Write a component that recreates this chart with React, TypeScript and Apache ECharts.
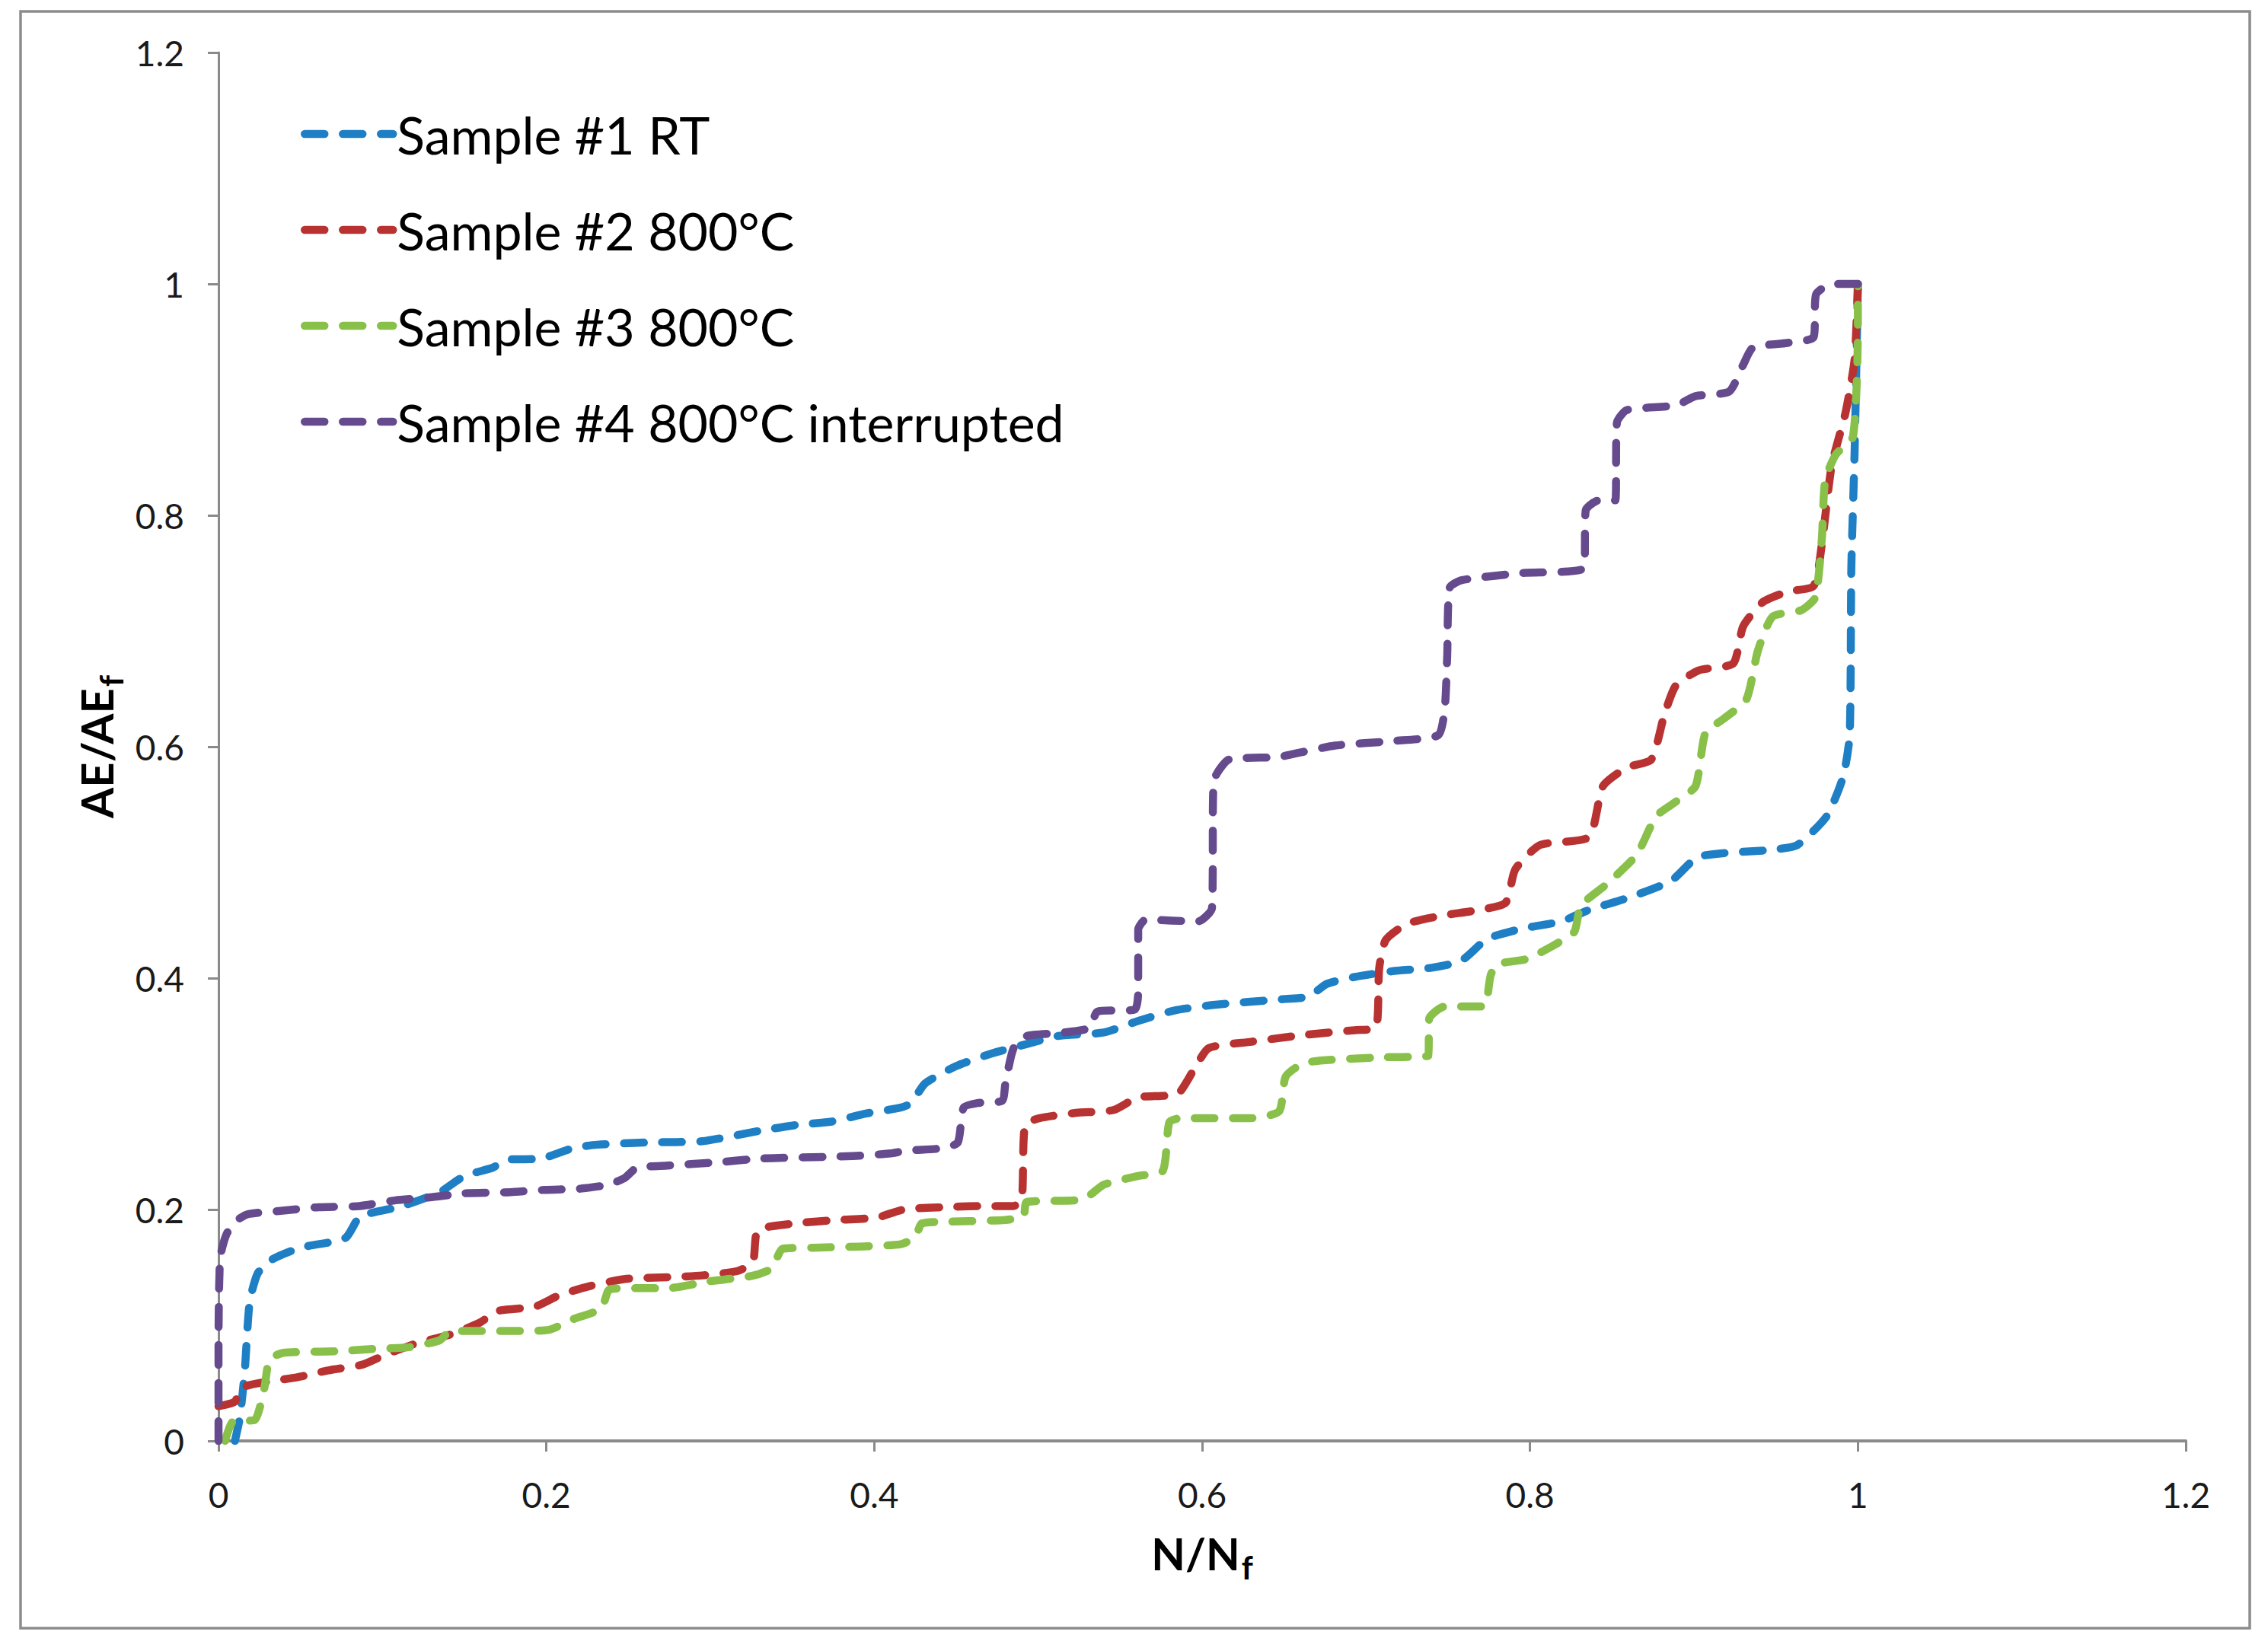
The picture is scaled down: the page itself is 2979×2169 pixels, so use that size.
import React, { useEffect, useRef } from "react";
import * as echarts from "echarts";

const seriesNames = [
  "Sample #1 RT",
  "Sample #2 800°C",
  "Sample #3 800°C",
  "Sample #4 800°C interrupted",
];
const seriesColors = ["#1e7fc5", "#b83232", "#88c04a", "#654a8e"];

const s1RT: number[][] = [
  [0.01, 0], [0.013, 0.02], [0.016, 0.06], [0.019, 0.12], [0.024, 0.145], [0.033, 0.157],
  [0.05, 0.167], [0.069, 0.172], [0.078, 0.176], [0.086, 0.194], [0.093, 0.197], [0.112, 0.203],
  [0.135, 0.215], [0.15, 0.229], [0.167, 0.236], [0.176, 0.243], [0.197, 0.244], [0.216, 0.253],
  [0.231, 0.256], [0.263, 0.258], [0.295, 0.259], [0.33, 0.268], [0.352, 0.273], [0.374, 0.276],
  [0.395, 0.283], [0.416, 0.288], [0.4225, 0.292], [0.431, 0.309], [0.45, 0.324], [0.472, 0.335],
  [0.493, 0.343], [0.512, 0.35], [0.54, 0.353], [0.561, 0.363], [0.583, 0.372], [0.608, 0.377],
  [0.651, 0.382], [0.665, 0.384], [0.676, 0.395], [0.693, 0.401], [0.716, 0.406], [0.74, 0.409],
  [0.758, 0.415], [0.774, 0.434], [0.796, 0.443], [0.819, 0.449], [0.836, 0.459], [0.859, 0.469],
  [0.886, 0.484], [0.903, 0.505], [0.948, 0.511], [0.963, 0.515], [0.981, 0.54], [0.991, 0.574],
  [0.995, 0.61], [0.996, 0.755], [0.998, 0.855], [1.0, 1.0],
];

const s2Hot: number[][] = [
  [0, 0.03], [0.01, 0.034], [0.014, 0.046], [0.029, 0.051], [0.048, 0.055], [0.067, 0.061],
  [0.088, 0.066], [0.101, 0.074], [0.12, 0.084], [0.1415, 0.092], [0.159, 0.102], [0.171, 0.1125],
  [0.193, 0.116], [0.208, 0.126], [0.227, 0.134], [0.248, 0.14], [0.274, 0.1415], [0.295, 0.143],
  [0.317, 0.147], [0.326, 0.155], [0.329, 0.182], [0.352, 0.188], [0.378, 0.191], [0.4015, 0.193],
  [0.418, 0.2], [0.442, 0.202], [0.465, 0.203], [0.485, 0.203], [0.49, 0.209], [0.492, 0.273],
  [0.501, 0.279], [0.523, 0.2835], [0.546, 0.286], [0.561, 0.297], [0.585, 0.3], [0.595, 0.321],
  [0.604, 0.3395], [0.63, 0.345], [0.663, 0.351], [0.693, 0.355], [0.706, 0.357], [0.708, 0.4085],
  [0.712, 0.433], [0.725, 0.447], [0.746, 0.454], [0.767, 0.4585], [0.785, 0.465], [0.791, 0.494],
  [0.806, 0.515], [0.836, 0.522], [0.8445, 0.566], [0.859, 0.582], [0.874, 0.589], [0.882, 0.628],
  [0.889, 0.653], [0.903, 0.666], [0.924, 0.672], [0.93, 0.704], [0.942, 0.725], [0.957, 0.734],
  [0.973, 0.739], [0.978, 0.775], [0.984, 0.843], [0.9925, 0.889], [0.998, 0.935], [1.0, 1.0],
];

const s3Hot: number[][] = [
  [0.004, 0], [0.009, 0.017], [0.022, 0.018], [0.028, 0.046], [0.031, 0.07], [0.039, 0.076],
  [0.0715, 0.0775], [0.095, 0.0795], [0.116, 0.081], [0.135, 0.087], [0.1415, 0.095], [0.18, 0.095],
  [0.2015, 0.096], [0.216, 0.105], [0.2335, 0.1145], [0.2385, 0.131], [0.2525, 0.132], [0.274, 0.132],
  [0.2995, 0.138], [0.325, 0.1425], [0.3375, 0.149], [0.344, 0.166], [0.363, 0.167], [0.391, 0.168],
  [0.416, 0.17], [0.425, 0.176], [0.429, 0.188], [0.446, 0.1895], [0.48, 0.191], [0.491, 0.194],
  [0.493, 0.2065], [0.523, 0.208], [0.5315, 0.2125], [0.54, 0.2215], [0.561, 0.229], [0.576, 0.2335],
  [0.58, 0.2755], [0.587, 0.279], [0.63, 0.279], [0.647, 0.285], [0.651, 0.315], [0.663, 0.327],
  [0.708, 0.3315], [0.738, 0.333], [0.7385, 0.365], [0.748, 0.3755], [0.772, 0.3755], [0.774, 0.384],
  [0.776, 0.4025], [0.78, 0.412], [0.798, 0.4165], [0.814, 0.428], [0.827, 0.44], [0.831, 0.4625],
  [0.847, 0.4815], [0.865, 0.5065], [0.877, 0.54], [0.889, 0.5525], [0.901, 0.566], [0.907, 0.612],
  [0.918, 0.624], [0.932, 0.641], [0.939, 0.683], [0.948, 0.7125], [0.9655, 0.718], [0.974, 0.729],
  [0.978, 0.7795], [0.98, 0.83], [0.9865, 0.8525], [0.997, 0.868], [1.0, 0.9635], [1.0, 1.0],
];

const s4Interrupted: number[][] = [
  [0, 0], [0, 0.08], [0.001, 0.158], [0.005, 0.179], [0.0116, 0.191], [0.018, 0.196],
  [0.039, 0.199], [0.061, 0.202], [0.086, 0.203], [0.108, 0.208], [0.129, 0.2105], [0.15, 0.214],
  [0.178, 0.215], [0.199, 0.217], [0.2205, 0.218], [0.238, 0.2215], [0.248, 0.2275], [0.255, 0.236],
  [0.274, 0.238], [0.306, 0.241], [0.33, 0.244], [0.3695, 0.2455], [0.391, 0.2465], [0.41, 0.2485],
  [0.4205, 0.251], [0.442, 0.253], [0.451, 0.258], [0.4545, 0.288], [0.463, 0.292], [0.478, 0.294],
  [0.48, 0.309], [0.485, 0.3395], [0.493, 0.35], [0.512, 0.3525], [0.5315, 0.357], [0.536, 0.371],
  [0.559, 0.373], [0.561, 0.389], [0.561, 0.442], [0.5655, 0.4505], [0.5975, 0.449], [0.606, 0.4605],
  [0.607, 0.57], [0.6165, 0.589], [0.646, 0.591], [0.658, 0.5945], [0.681, 0.601], [0.717, 0.605],
  [0.744, 0.61], [0.748, 0.633], [0.7495, 0.679], [0.751, 0.7375], [0.7585, 0.744], [0.794, 0.75],
  [0.833, 0.7545], [0.834, 0.8045], [0.842, 0.813], [0.852, 0.813], [0.853, 0.88], [0.859, 0.891],
  [0.889, 0.895], [0.901, 0.903], [0.9215, 0.907], [0.93, 0.93], [0.936, 0.945], [0.957, 0.949],
  [0.973, 0.954], [0.9745, 0.991], [0.984, 1.0], [1.0, 1.0],
];

const seriesData = [s1RT, s2Hot, s3Hot, s4Interrupted];

const axisMin = 0;
const axisMax = 1.2;
const axisStep = 0.2;

const FONT = "Lato, 'Open Sans', sans-serif";
const DASH = [26, 24];
const LINE_W = 10.5;

export default function App() {
  const ref = useRef<HTMLDivElement>(null);

  useEffect(() => {
    if (!ref.current) return;
    const chart = echarts.init(ref.current, undefined, { renderer: "svg" });

    const lineStyleFor = (color: string) => ({
      color,
      width: LINE_W,
      type: DASH as any,
      cap: "round" as const,
      join: "round" as const,
    });

    chart.setOption({
      animation: false,
      backgroundColor: "#ffffff",
      textStyle: { fontFamily: FONT },
      grid: { left: 287, right: 108, top: 69, bottom: 276, containLabel: false },
      legend: {
        orient: "vertical",
        left: 390,
        top: 131,
        itemWidth: 116,
        itemHeight: 20,
        itemGap: 46,
        data: seriesNames,
        itemStyle: { opacity: 0, borderWidth: 0 },
        lineStyle: { width: LINE_W, type: DASH as any, cap: "round", opacity: 1 },
        textStyle: {
          fontFamily: FONT,
          fontSize: 68,
          lineHeight: 80,
          color: "#000",
          padding: [0, 0, 0, 0],
        },
      },
      xAxis: {
        type: "value",
        min: axisMin,
        max: axisMax,
        interval: axisStep,
        name: "{b|N/N}{s|f}",
        nameLocation: "middle",
        nameGap: 118,
        nameTextStyle: {
          rich: {
            b: { fontFamily: FONT, fontSize: 58, fontWeight: "bold", color: "#000", lineHeight: 58, verticalAlign: "top" },
            s: { fontFamily: FONT, fontSize: 42, fontWeight: "bold", color: "#000", lineHeight: 42, verticalAlign: "top", padding: [27, 0, 0, 2] },
          },
        },
        splitLine: { show: false },
        axisLine: { show: true, onZero: false, lineStyle: { color: "#8a8a8a", width: 4 } },
        axisTick: { show: true, inside: false, length: 14, lineStyle: { color: "#8a8a8a", width: 3 } },
        axisLabel: { fontFamily: FONT, fontSize: 46, color: "#1a1a1a", margin: 47 },
      },
      yAxis: {
        type: "value",
        min: axisMin,
        max: axisMax,
        interval: axisStep,
        name: "{b|AE/AE}{s|f}",
        nameLocation: "middle",
        nameGap: 128,
        nameTextStyle: {
          rich: {
            b: { fontFamily: FONT, fontSize: 58, fontWeight: "bold", color: "#000", lineHeight: 58, verticalAlign: "top" },
            s: { fontFamily: FONT, fontSize: 42, fontWeight: "bold", color: "#000", lineHeight: 42, verticalAlign: "top", padding: [27, 0, 0, 2] },
          },
        },
        splitLine: { show: false },
        axisLine: { show: true, onZero: false, lineStyle: { color: "#8a8a8a", width: 3 } },
        axisTick: { show: true, inside: false, length: 14, lineStyle: { color: "#8a8a8a", width: 3 } },
        axisLabel: { fontFamily: FONT, fontSize: 46, color: "#1a1a1a", margin: 45 },
      },
      graphic: [
        {
          type: "rect",
          silent: true,
          z: -1,
          shape: { x: 27, y: 15, width: 2928, height: 2124 },
          style: { fill: "none", stroke: "#8c8c8c", lineWidth: 3.5 },
        },
      ],
      series: seriesData.map((d, i) => ({
        name: seriesNames[i],
        type: "line",
        data: d,
        showSymbol: false,
        symbol: "none",
        smooth: 0.2,
        color: seriesColors[i],
        lineStyle: lineStyleFor(seriesColors[i]),
        emphasis: { disabled: true },
      })),
    });

    return () => {
      chart.dispose();
    };
  }, []);

  return (
    <div
      ref={ref}
      style={{ position: "absolute", left: 0, top: 0, width: 2979, height: 2169, background: "#fff" }}
    />
  );
}
